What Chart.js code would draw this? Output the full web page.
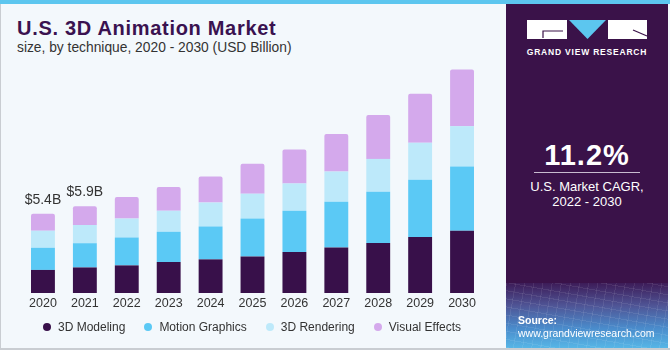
<!DOCTYPE html>
<html lang="en">
<head>
  <meta charset="UTF-8">
  <title>U.S. 3D Animation Market</title>
  <script src="https://cdn.jsdelivr.net/npm/chart.js"></script>
  <style>
    html, body {
      margin: 0;
      padding: 0;
      width: 670px;
      height: 350px;
      overflow: hidden;
      font-family: 'Liberation Sans', Arial, sans-serif;
    }
    #frame {
      position: absolute;
      left: 0; top: 0;
      width: 670px; height: 350px;
      background: #f3f8fc;
      box-sizing: border-box;
      border-left: 1px solid #c9cdd2;
      border-bottom: 2px solid #c9cdd2;
    }
    #topband {
      position: absolute;
      left: 0; top: 0;
      width: 670px; height: 4px;
      background: #5cc6ef;
    }
    #title {
      position: absolute;
      left: 17px; top: 17px;
      font-size: 20px;
      font-weight: bold;
      letter-spacing: 0.7px;
      color: #3a1250;
    }
    #subtitle {
      position: absolute;
      left: 17px; top: 40px;
      font-size: 13.8px;
      color: #333;
    }
    #chartBox {
      position: absolute;
      left: 0; top: 0;
      width: 500px; height: 348px;
    }
    #legend {
      position: absolute;
      left: 43px; top: 319px;
      display: flex;
      align-items: center;
      font-size: 12px;
      line-height: 16px;
      color: #333;
    }
    #legend .item {
      display: flex;
      align-items: center;
      margin-right: 19px;
    }
    #legend .dot {
      width: 8px; height: 8px;
      border-radius: 50%;
      margin-right: 7px;
    }
    #panel {
      position: absolute;
      left: 506px; top: 4px;
      width: 162px; height: 344px;
      background: #3a1249;
      color: #fff;
    }
    #source {
      position: absolute;
      left: 0; top: 279px;
      width: 162px; height: 65px;
      background:
        repeating-linear-gradient(100deg, rgba(255,255,255,0.08) 0 1px, transparent 1px 9px),
        repeating-linear-gradient(10deg, rgba(255,255,255,0.08) 0 1px, transparent 1px 8px),
        linear-gradient(#3d1c58, #4f5596 35%, #4a8ccc 70%, #57b6e6);
    }
    #source .lbl {
      position: absolute;
      left: 12px; top: 31px;
      font-size: 10.5px;
      font-weight: bold;
    }
    #source .url {
      position: absolute;
      left: 12px; top: 44px;
      font-size: 10.5px;
    }
    #gvr {
      position: absolute;
      left: 0; top: 43px;
      width: 162px;
      text-align: center;
      font-size: 8.5px;
      font-weight: bold;
      letter-spacing: 0.8px;
    }
    #cagr {
      position: absolute;
      left: 0; top: 135px;
      width: 162px;
      text-align: center;
      font-size: 29px;
      font-weight: bold;
      letter-spacing: 1px;
    }
    #rule {
      position: absolute;
      left: 28px; top: 168px;
      width: 106px; height: 1px;
      background: #c8bcd0;
    }
    #cagrText {
      position: absolute;
      left: 0; top: 175px;
      width: 162px;
      text-align: center;
      font-size: 13px;
      line-height: 15px;
    }
  </style>
</head>
<body>
  <div id="frame"></div>
  <div id="title">U.S. 3D Animation Market</div>
  <div id="subtitle">size, by technique, 2020 - 2030 (USD Billion)</div>
  <div id="chartBox"><canvas id="chart" width="500" height="348"></canvas></div>
  <div id="legend"></div>
  <div id="panel">
    <svg width="162" height="40" style="position:absolute;left:0;top:0">
      <rect x="21" y="16" width="40" height="19" fill="#fff"/>
      <polyline points="37,34 37,27 57,27" fill="none" stroke="#3a1249" stroke-width="1.2"/>
      <polygon points="63,16 100,16 81.5,35" fill="#5cc6ef"/>
      <rect x="102" y="16" width="39" height="19" fill="#fff"/>
      <line x1="127" y1="26" x2="141" y2="32" stroke="#3a1249" stroke-width="1.2"/>
    </svg>
    <div id="gvr">GRAND VIEW RESEARCH</div>
    <div id="cagr">11.2%</div>
    <div id="rule"></div>
    <div id="cagrText">U.S. Market CAGR,<br>2022 - 2030</div>
    <div id="source">
      <div class="lbl">Source:</div>
      <div class="url">www.grandviewresearch.com</div>
    </div>
  </div>
  <div id="topband"></div>

  <script>
    const years = ['2020', '2021', '2022', '2023', '2024', '2025', '2026', '2027', '2028', '2029', '2030'];
    const modeling = [1.57, 1.74, 1.88, 2.11, 2.29, 2.49, 2.79, 3.10, 3.40, 3.81, 4.24];
    const motion   = [1.51, 1.65, 1.90, 2.06, 2.24, 2.59, 2.81, 3.11, 3.49, 3.90, 4.37];
    const rendering = [1.16, 1.24, 1.29, 1.43, 1.63, 1.68, 1.86, 2.06, 2.24, 2.52, 2.75];
    const effects  = [1.16, 1.27, 1.46, 1.61, 1.77, 2.04, 2.31, 2.56, 2.99, 3.33, 3.85];
    const totalLabels = ['$5.4B', '$5.9B'];

    const font = "'Liberation Sans', Arial, sans-serif";

    // write the total above the first two bars
    const totalsPlugin = {
      id: 'totals',
      afterDatasetsDraw(chart) {
        const ctx = chart.ctx;
        const meta = chart.getDatasetMeta(chart.data.datasets.length - 1);
        ctx.save();
        ctx.font = '14px ' + font;
        ctx.fillStyle = '#333';
        ctx.textAlign = 'center';
        ctx.textBaseline = 'alphabetic';
        totalLabels.forEach((txt, i) => {
          const bar = meta.data[i];
          ctx.fillText(txt, bar.x, bar.y - 10);
        });
        ctx.restore();
      }
    };

    const chart = new Chart(document.getElementById('chart'), {
      type: 'bar',
      data: {
        labels: years,
        datasets: [
          { label: '3D Modeling', data: modeling, backgroundColor: '#38104a' },
          { label: 'Motion Graphics', data: motion, backgroundColor: '#5bc9f5' },
          { label: '3D Rendering', data: rendering, backgroundColor: '#bde9fa' },
          { label: 'Visual Effects', data: effects, backgroundColor: '#d4a9ec',
            borderRadius: { topLeft: 2, topRight: 2 }, borderSkipped: false }
        ]
      },
      options: {
        responsive: false,
        animation: false,
        layout: { padding: { left: 22, right: 17, top: 58, bottom: 34 } },
        datasets: { bar: { barPercentage: 0.57, categoryPercentage: 1 } },
        plugins: {
          legend: { display: false },
          tooltip: { enabled: false }
        },
        scales: {
          x: {
            stacked: true,
            grid: { display: false, drawTicks: false },
            border: { display: false },
            ticks: { color: '#333', padding: 3, font: { size: 12.5, family: font } }
          },
          y: { stacked: true, display: false, min: 0, max: 16 }
        }
      },
      plugins: [totalsPlugin]
    });

    // html legend built from the chart's datasets
    const legendBox = document.getElementById('legend');
    chart.data.datasets.forEach(ds => {
      const item = document.createElement('div');
      item.className = 'item';
      item.innerHTML = `<span class="dot" style="background:${ds.backgroundColor}"></span><span>${ds.label}</span>`;
      legendBox.appendChild(item);
    });
  </script>
</body>
</html>
